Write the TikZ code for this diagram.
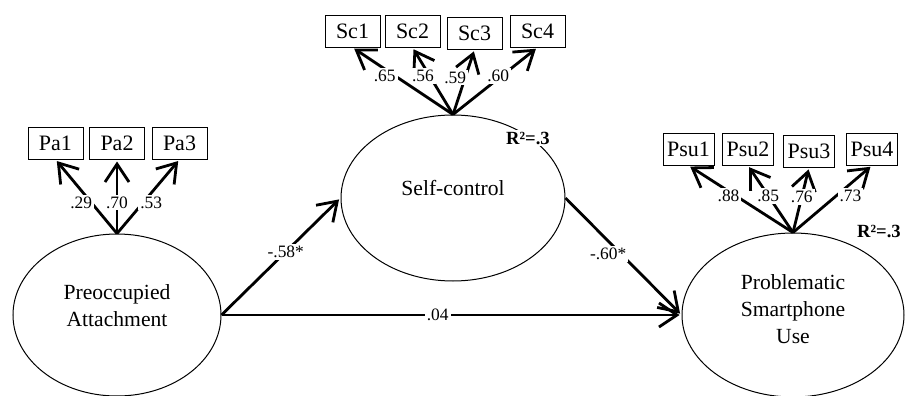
\documentclass[tikz,border=0pt]{standalone}
\usepackage{fontspec}
\setmainfont{Liberation Serif}
\usepackage{tikz}
\usetikzlibrary{shapes,arrows,arrows.meta,positioning,calc}

\tikzset{
    latent/.style={draw, ellipse, line width=0.5pt, align=center, inner sep=0pt,
        font=\fontsize{10.8}{13.5}\selectfont},
    indicator/.style={draw, line width=0.5pt, minimum width=27.5pt, minimum height=16pt,
        inner sep=0pt, font=\fontsize{11}{12}\selectfont},
    effect/.style={line width=1.4pt, shorten >=1pt, -{Straight Barb[length=9pt, width=12pt]}},
    coef/.style={fill=white, inner sep=1pt, font=\fontsize{8.7}{10}\selectfont},
    rsq/.style={inner sep=1pt, font=\fontsize{9.3}{10}\selectfont\bfseries}
}

\begin{document}
\begin{tikzpicture}[x=0.5pt, y=-0.5pt]
    \useasboundingbox (0,0) rectangle (906,396);

    % Latent variables
    \node[latent, minimum width=104pt, minimum height=81pt, text depth=9pt] (pa) at (117,315) {Preoccupied\\Attachment};
    \node[latent, minimum width=112pt, minimum height=83pt, text depth=10pt] (sc) at (453,198) {Self-control};
    \node[latent, minimum width=111pt, minimum height=82pt, text depth=6pt] (psu) at (793,315) {Problematic\\Smartphone\\Use};

    % Indicators and loadings
    \foreach \n/\x/\y/\w/\p/\s in {1/55.5/143/.29/0.42/-5pt, 2/117/143/.70/0.42/0pt, 3/179.5/143/.53/0.42/4pt} {
        \node[indicator] (pa\n) at (\x,\y) {Pa\n};
        \draw[effect] (pa.north) -- node[coef, pos=\p, xshift=\s] {\w} (pa\n.south);
    }
    \foreach \n/\x/\y/\w/\p/\s in {1/352.5/31/.65/0.57/-5.5pt, 2/412.5/31/.56/0.57/-3.5pt, 3/474.5/33/.59/0.57/-5pt, 4/537.5/31/.60/0.57/-1.5pt} {
        \node[indicator] (sc\n) at (\x,\y) {Sc\n};
        \draw[effect] (sc.north) -- node[coef, pos=\p, xshift=\s] {\w} (sc\n.south);
    }
    \foreach \n/\x/\y/\w/\p/\s in {1/688.5/149/.88/0.55/-3.5pt, 2/748/149/.85/0.55/0pt, 3/809/151/.76/0.55/0pt, 4/872/149/.73/0.55/7pt} {
        \node[indicator, minimum width=25.5pt] (psu\n) at (\x,\y) {Psu\n};
        \draw[effect] (psu.north) -- node[coef, pos=\p, xshift=\s] {\w} (psu\n.south);
    }

    % Structural paths
    \draw[effect] (pa.east) -- node[coef, pos=0.54] {-.58*} (sc.west);
    \draw[effect] (sc.east) -- node[coef, pos=0.48, xshift=-6.5pt] {-.60*} (psu.west);
    \draw[effect] (pa.east) -- node[coef, pos=0.47] {.04} (psu.west);

    % Explained variance
    \node[rsq, fill=white] (scr) at (528,138) {R²=.3};
    \node[rsq] (psur) at (879,231) {R²=.3};
\end{tikzpicture}
\end{document}
